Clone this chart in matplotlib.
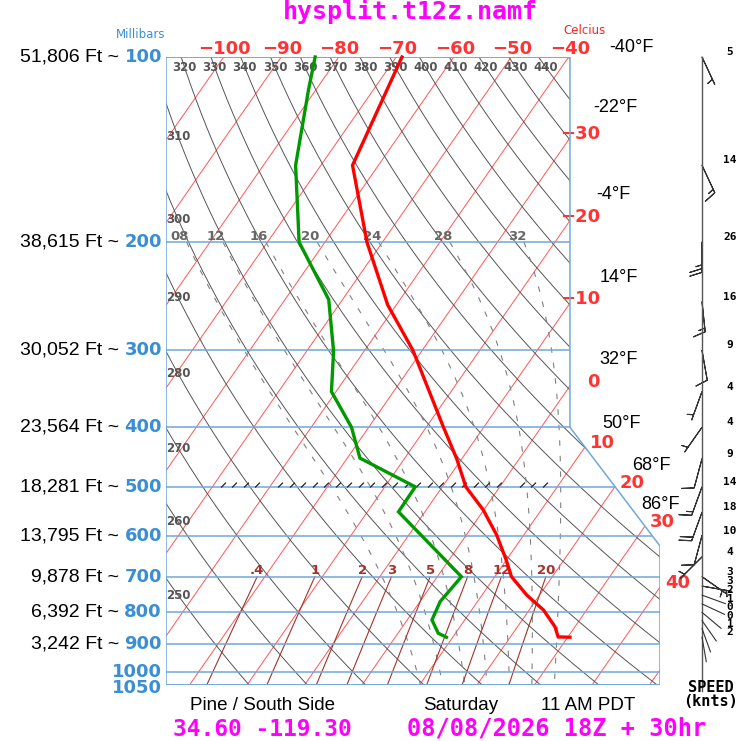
import numpy as np
import matplotlib
matplotlib.use('Agg')
import matplotlib.pyplot as plt
from matplotlib.patches import Polygon

# ---------------- data ----------------
temp_p = [100, 150, 200, 253, 300, 400, 450, 500, 545, 599, 658, 700, 750, 793, 844, 877, 878]
temp_c = [-69.0, -64.5, -52.7, -41.5, -31.6, -17.0, -10.9, -5.9, -0.1, 5.3, 10.0, 12.9, 17.8, 22.5, 26.5, 28.3, 30.4]
dewp_p = [100, 113, 150, 200, 248, 301, 350, 400, 449, 500, 549, 700, 768, 823, 865, 878]
dewp_c = [-84.1, -81.3, -74.4, -64.5, -52.4, -45.3, -40.8, -33.0, -27.8, -14.7, -14.6, 4.2, 3.5, 4.3, 7.0, 8.9]

wind_p = [100, 150, 200, 250, 300, 350, 400, 450, 500, 550, 600, 650, 700, 725, 750, 775, 800, 825, 850, 878]
wind_kt = [5, 14, 26, 16, 9, 4, 4, 9, 14, 18, 10, 4, 3, 3, 2, 1, 0, 0, 1, 2]
wind_dir = [155, 155, 180, 174, 170, 200, 215, 195, 200, 200, 195, 225, 125, 100, 110, 115, 130, 145, 160, 170]

isobars = [100, 200, 300, 400, 500, 600, 700, 800, 900, 1000, 1050]
heights_ft = ['51,806', '38,615', '30,052', '23,564', '18,281', '13,795', '9,878', '6,392', '3,242', '', '']
isotherms = np.arange(-130, 61, 10)
top_temp_labels = [-100, -90, -80, -70, -60, -50, -40]
right_temp_labels = [-30, -20, -10, 0, 10, 20, 30, 40]
fahr_labels = ['-40°F', '-22°F', '-4°F', '14°F', '32°F', '50°F', '68°F', '86°F']
fahr_for_c = [-40, -30, -20, -10, 0, 10, 20, 30]
theta_k = np.arange(250, 451, 10)
theta_w = [8, 12, 16, 20, 24, 28, 32]
mix_ratio = [0.4, 1, 2, 3, 5, 8, 12, 20]
mix_labels = ['.4', '1', '2', '3', '5', '8', '12', '20']

# ---------------- layout / geometry ----------------
W = H = 741
K = 32.3          # skew (deg C per ln p)
P_REF = 1050.0
X_L, X_R, X_TR = -34.09, 51.83, 36.17
NOTCH_P = (400, 624)
BLUE = '#6fa8dc'
BLUE_TXT = '#3a8ed4'
RED_TXT = '#ff3333'
GRAY = '#555555'
BROWN = '#a3332b'

def skx(T, p):
    return np.asarray(T, float) + K * np.log(P_REF / np.asarray(p, float))

def right_edge(p):
    return np.interp(np.log(p), np.log([100, NOTCH_P[0], NOTCH_P[1], 1050]), [X_TR, X_TR, X_R, X_R])

def fx(px):
    return px / W

def fy(py):
    return 1 - py / H

fig = plt.figure(figsize=(7.41, 7.41), dpi=100)
ax = fig.add_axes([fx(166), fy(685), fx(660) - fx(166), fy(57) - fy(685)])
ax.set_yscale('log')
ax.set_ylim(1050, 100)
ax.set_xlim(X_L, X_R)
ax.axis('off')

poly = np.column_stack([[X_L, X_TR, X_TR, X_R, X_R, X_L],
                        [100, 100, NOTCH_P[0], NOTCH_P[1], 1050, 1050]])
clip = Polygon(poly, closed=True, transform=ax.transData, facecolor='white', edgecolor='none', zorder=0)
ax.add_patch(clip)

pgrid = np.geomspace(100, 1050, 400)

# isotherms
for T in isotherms:
    ln, = ax.plot(skx(T, pgrid), pgrid, color='#ff5555', lw=0.7, zorder=2)
    ln.set_clip_path(clip)

# dry adiabats
def dry_T(theta, p):
    return theta * (np.asarray(p) / 1000.0) ** 0.2857 - 273.15

for th in theta_k:
    ln, = ax.plot(skx(dry_T(th, pgrid), pgrid), pgrid, color=GRAY, lw=0.7, zorder=2)
    ln.set_clip_path(clip)

# moist adiabats
def sat_mr(Tc, p):
    es = 6.112 * np.exp(17.67 * Tc / (Tc + 243.5))
    return 0.622 * es / (p - es)

def moist_lapse(Tc, p):
    T = Tc + 273.15
    rs = sat_mr(Tc, p)
    Rd, cp, Lv, eps = 287.04, 1005.7, 2.501e6, 0.622
    return (Rd * T + Lv * rs) / (cp + Lv ** 2 * rs * eps / (Rd * T ** 2)) / p

def moist_profile(tw, p_end, step):
    ps = [1000.0]
    ts = [float(tw)]
    p, t = 1000.0, float(tw)
    while (step < 0 and p + step >= p_end) or (step > 0 and p + step <= p_end):
        k1 = moist_lapse(t, p)
        k2 = moist_lapse(t + k1 * step, p + step)
        t = t + 0.5 * (k1 + k2) * step
        p = p + step
        ps.append(p)
        ts.append(t)
    return np.array(ps), np.array(ts)

moist_lab_T = {}
for tw in theta_w:
    pu, tu = moist_profile(tw, 200, -1.0)
    pd, td = moist_profile(tw, 1050, 1.0)
    pp = np.concatenate([pu[::-1], pd[1:]])
    tt = np.concatenate([tu[::-1], td[1:]])
    ln, = ax.plot(skx(tt, pp), pp, color='#808080', lw=0.8, ls=(0, (5, 9)), zorder=2)
    ln.set_clip_path(clip)
    moist_lab_T[tw] = tu[-1]

# mixing ratio lines
pm = np.geomspace(700, 1050, 60)
for w in mix_ratio:
    e = (w / 1000.0) * pm / (0.622 + w / 1000.0)
    a = np.log(e / 6.112)
    Tm = 243.5 * a / (17.67 - a)
    ln, = ax.plot(skx(Tm, pm), pm, color=BROWN, lw=0.8, zorder=2)
    ln.set_clip_path(clip)

# isobars
for p in isobars:
    ln, = ax.plot([X_L, X_R], [p, p], color=BLUE, lw=1.1, zorder=3)
    ln.set_clip_path(clip)

outline = Polygon(poly, closed=True, transform=ax.transData, facecolor='none', edgecolor=BLUE, lw=1.1, zorder=4)
ax.add_patch(outline)

# hatch marks along 500 mb
hx = np.arange(-24.2, 32.6, 2.0)
keep = np.ones(len(hx), bool)
keep[[4, 25]] = False
ax.plot(hx[keep], np.full(keep.sum(), 500.0), ls='none', marker=[(-0.5, 0), (0.5, 1)],
        markersize=7, markeredgewidth=0.9, color='#222222', zorder=4)

# profiles
ax.plot(skx(temp_c, temp_p), temp_p, color='#ff0000', lw=2.4, zorder=6, solid_joinstyle='miter', clip_on=False)
ax.plot(skx(dewp_c, dewp_p), dewp_p, color='#009900', lw=2.4, zorder=6, solid_joinstyle='miter', clip_on=False)

# ---------------- labels on the diagram ----------------
lab_b = dict(family='DejaVu Sans', fontweight='bold')
for th in theta_k:
    if th >= 320:
        X = skx(dry_T(th, 104), 104)
        if X < X_TR - 1.5:
            ax.annotate(str(th), (X, 104), ha='center', va='center', fontsize=8.5, color=GRAY, **lab_b, zorder=5)
    else:
        xl = -32.0
        diff = skx(dry_T(th, pgrid), pgrid) - xl
        pc = np.interp(0, diff, pgrid)
        ax.annotate(str(th), (xl, pc), ha='center', va='center', fontsize=8.5, color=GRAY, **lab_b, zorder=5)

for tw in theta_w:
    X = skx(moist_lab_T[tw], 200) - 1.2
    ax.annotate(f'{tw:02d}', (X, 200), xytext=(0, 6), textcoords='offset pixels', ha='center', va='center',
                fontsize=9.5, color='#666666', **lab_b, zorder=5)

for w, lab in zip(mix_ratio, mix_labels):
    e = (w / 1000.0) * 700 / (0.622 + w / 1000.0)
    a = np.log(e / 6.112)
    X = skx(243.5 * a / (17.67 - a), 700)
    ax.annotate(lab, (X, 700), xytext=(0, 6), textcoords='offset pixels', ha='center', va='center',
                fontsize=9.5, color=BROWN, **lab_b, zorder=5)

def crossing(T):
    if skx(T, 100) <= X_TR:
        return skx(T, 100), 100.0, 'top'
    diff = skx(T, pgrid) - right_edge(pgrid)
    pc = np.interp(0, diff[::-1], pgrid[::-1])
    return float(right_edge(pc)), pc, 'right'

for T in top_temp_labels:
    X, pc, _ = crossing(T)
    ax.annotate(str(T).replace('-', '\u2212'), (X, pc), xytext=(1, 8), textcoords='offset pixels',
                ha='center', va='center', fontsize=13, color=RED_TXT, fontweight='bold', annotation_clip=False)
for T in right_temp_labels:
    X, pc, _ = crossing(T)
    ax.annotate(str(T).replace('-', '\u2212'), (X, pc), xytext=(30, 4), textcoords='offset pixels',
                ha='right', va='center', fontsize=13, color=RED_TXT, fontweight='bold', annotation_clip=False)

fahr_offsets = [(63, 9), (45, 30), (43, 26), (49, 26), (49, 26), (37, 24), (36, 21), (16, 22)]
for T, lab, off in zip(fahr_for_c, fahr_labels, fahr_offsets):
    X, pc, _ = crossing(T)
    ax.annotate(lab, (X, pc), xytext=off, textcoords='offset pixels', ha='center', va='center',
                fontsize=13, color='black', family='Liberation Sans', annotation_clip=False)

# left-hand pressure / height labels
for p, h in zip(isobars, heights_ft):
    dy = -3 if p == 1050 else 0
    ax.annotate(str(p), (X_L, p), xytext=(-4, dy), textcoords='offset pixels', ha='right', va='center',
                fontsize=13, color=BLUE_TXT, fontweight='bold', annotation_clip=False)
    if h:
        ax.annotate(h + ' Ft ~', (X_L, p), xytext=(-47, 0), textcoords='offset pixels', ha='right', va='center',
                    fontsize=14, color='black', family='Liberation Sans', annotation_clip=False)

# ---------------- wind barbs ----------------
ax2 = fig.add_axes([fx(690), fy(685), fx(24), fy(57) - fy(685)])
ax2.set_yscale('log')
ax2.set_ylim(1050, 100)
ax2.set_xlim(-1, 1)
ax2.axis('off')
ax2.plot([0, 0], [100, 1075], color='#555555', lw=1.0, clip_on=False)
wd = np.radians(wind_dir)
spd = np.array(wind_kt, float)
u = -spd * np.sin(wd)
v = -spd * np.cos(wd)
ax2.barbs(np.zeros(len(wind_p)), wind_p, u, v, length=6.6, pivot='tip', color='#333333', linewidth=0.8,
          sizes=dict(emptybarb=0), clip_on=False)
for p, s, d in zip(wind_p, wind_kt, wind_dir):
    if s < 2.5:
        L = 18
        ax2.annotate('', xy=(0, p), xytext=(L * np.sin(np.radians(d)), L * np.cos(np.radians(d))),
                     textcoords='offset points',
                     arrowprops=dict(arrowstyle='-', color='#333333', lw=0.8, shrinkA=0, shrinkB=0),
                     annotation_clip=False)
    ax2.annotate(str(s), (0, p), xytext=(28, 5), textcoords='offset pixels', ha='center', va='center',
                 fontsize=8, color='black', family='DejaVu Sans Mono', fontweight='bold', annotation_clip=False)

# ---------------- frame texts ----------------
fig.text(fx(410), fy(12), 'hysplit.t12z.namf', ha='center', va='center', fontsize=18,
         family='DejaVu Sans Mono', fontweight='bold', color='#ff00ff')
fig.text(fx(141), fy(34), 'Millibars', ha='center', va='center', fontsize=8.5, color=BLUE_TXT)
fig.text(fx(585), fy(31), 'Celcius', ha='center', va='center', fontsize=8.5, color='#ff2222')
fig.text(fx(263), fy(706), 'Pine / South Side', ha='center', va='center', fontsize=13.5, family='Liberation Sans')
fig.text(fx(461), fy(706), 'Saturday', ha='center', va='center', fontsize=13.5, family='Liberation Sans')
fig.text(fx(588), fy(706), '11 AM PDT', ha='center', va='center', fontsize=13.5, family='Liberation Sans')
fig.text(fx(262), fy(729), '34.60 -119.30', ha='center', va='center', fontsize=16.5,
         family='DejaVu Sans Mono', fontweight='bold', color='#ff00ff')
fig.text(fx(557), fy(729), '08/08/2026 18Z + 30hr', ha='center', va='center', fontsize=17,
         family='DejaVu Sans Mono', fontweight='bold', color='#ff00ff')
fig.text(fx(711), fy(688), 'SPEED', ha='center', va='center', fontsize=11,
         family='DejaVu Sans Mono', fontweight='bold', color='black')
fig.text(fx(711), fy(702), '(knts)', ha='center', va='center', fontsize=11,
         family='DejaVu Sans Mono', fontweight='bold', color='black')

fig.savefig('out.png', dpi=100, facecolor='white')
